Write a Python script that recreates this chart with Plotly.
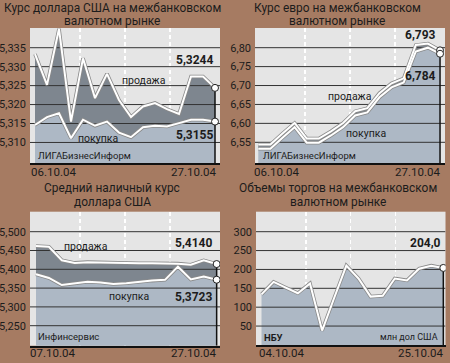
import plotly.graph_objects as go

W, H = 450, 363
FONT = "Roboto, 'Liberation Sans', sans-serif"
BG = "#a67b62"
PLOT_BG = "#e5e5e5"
SELL_FILL = "#7e868f"
BUY_FILL = "#adb8c5"
GRID = "#333333"
TEXT = "#1c1c1c"

# ---------------- data ----------------
# Panel 1: USD interbank
p1_title = ["Курс доллара США на межбанковском", "валютном рынке"]
p1_dates = ["06.10.04", "27.10.04"]
p1_sell = [5.3333, 5.3252, 5.3400, 5.3155, 5.3322, 5.3217, 5.3281, 5.3212,
           5.3167, 5.3195, 5.3204, 5.3188, 5.3175, 5.3274, 5.3274, 5.3244]
p1_buy = [5.3146, 5.3167, 5.3177, 5.3111, 5.3160, 5.3144, 5.3155, 5.3126,
          5.3114, 5.3140, 5.3144, 5.3142, 5.3151, 5.3160, 5.3160, 5.3155]
p1_ticks = [5.310, 5.315, 5.320, 5.325, 5.330, 5.335]

# Panel 2: EUR interbank
p2_title = ["Курс евро на межбанковском", "валютном рынке"]
p2_dates = ["06.10.04", "27.10.04"]
p2_sell = [6.544, 6.544, 6.573, 6.601, 6.560, 6.560, 6.579, 6.601,
           6.632, 6.640, 6.680, 6.706, 6.719, 6.807, 6.811, 6.793]
p2_buy = [6.533, 6.533, 6.562, 6.590, 6.549, 6.549, 6.568, 6.590,
          6.621, 6.629, 6.669, 6.695, 6.708, 6.790, 6.800, 6.784]
p2_ticks = [6.55, 6.60, 6.65, 6.70, 6.75, 6.80]

# Panel 3: USD cash average
p3_title = ["Средний наличный курс", "доллара США"]
p3_dates = ["07.10.04", "27.10.04"]
p3_sell = [5.462, 5.460, 5.424, 5.417, 5.419, 5.418, 5.416, 5.415,
           5.416, 5.416, 5.416, 5.415, 5.412, 5.424, 5.4140]
p3_buy = [5.387, 5.377, 5.358, 5.362, 5.367, 5.365, 5.361, 5.363,
          5.367, 5.370, 5.372, 5.407, 5.373, 5.381, 5.3723]
p3_ticks = [5.250, 5.300, 5.350, 5.400, 5.450, 5.500]

# Panel 4: trading volume
p4_title = ["Объемы торгов на межбанковском", "валютном рынке"]
p4_dates = ["04.10.04", "25.10.04"]
p4_vol = [134, 167, 152, 137, 163, 38, 125, 210, 176, 128, 130, 176, 171, 202, 210, 204.0]
p4_ticks = [50, 100, 150, 200, 250, 300]

sell_lbl, buy_lbl = "продажа", "покупка"

# ---------------- layout helpers ----------------
def P(px, py):
    return px / W, 1 - py / H

panels = [
    dict(ax="", dom_x=(30, 220), dom_y=(28, 163.3), xr=(-0.417, 15.417), yr=(5.3045, 5.3402), fmt=".3f"),
    dict(ax="2", dom_x=(255, 445), dom_y=(28, 163.3), xr=(-0.27, 15.41), yr=(6.4945, 6.852), fmt=".2f"),
    dict(ax="3", dom_x=(30, 220), dom_y=(211.7, 345.7), xr=(-0.465, 14.26), yr=(5.1968, 5.5532), fmt=".3f"),
    dict(ax="4", dom_x=(256, 445.5), dom_y=(211.7, 345.3), xr=(-0.454, 15.18), yr=(-1, 353), fmt="d"),
]
ticks_all = [p1_ticks, p2_ticks, p3_ticks, p4_ticks]

fig = go.Figure()


def line_tr(ax, x, y, color, width, **kw):
    return go.Scatter(x=x, y=y, mode="lines", line=dict(color=color, width=width),
                      xaxis="x" + ax, yaxis="y" + ax, hoverinfo="skip", showlegend=False, **kw)


def add_panel(cfg, ticks, series):
    ax = cfg["ax"]
    n = len(series[0])
    xs = list(range(n))
    if len(series) == 2:
        sell, buy = series
        fig.add_trace(line_tr(ax, xs, buy, BUY_FILL, 0, fill="tozeroy", fillcolor=BUY_FILL))
        fig.add_trace(line_tr(ax, xs, sell, SELL_FILL, 0, fill="tonexty", fillcolor=SELL_FILL))
    else:
        fig.add_trace(line_tr(ax, xs, series[0], BUY_FILL, 0, fill="tozeroy", fillcolor=BUY_FILL))
    gx, gy = [], []
    for t in ticks:
        gx += [cfg["xr"][0], cfg["xr"][1], None]
        gy += [t, t, None]
    fig.add_trace(line_tr(ax, gx, gy, GRID, 1))
    for s in series:
        fig.add_trace(line_tr(ax, xs, s, "#8a8a8a", 3.6))
    for s in series:
        fig.add_trace(line_tr(ax, xs, s, "#ffffff", 2))
    top = max(s[-1] for s in series)
    fig.add_trace(line_tr(ax, [n - 1, n - 1], [cfg["yr"][0], top], "#111111", 1.5))
    fig.add_trace(go.Scatter(x=[n - 1] * len(series), y=[s[-1] for s in series], mode="markers",
                             marker=dict(size=7, color="white", line=dict(color="#222", width=1)),
                             xaxis="x" + ax, yaxis="y" + ax, hoverinfo="skip", showlegend=False))


add_panel(panels[0], p1_ticks, [p1_sell, p1_buy])
add_panel(panels[1], p2_ticks, [p2_sell, p2_buy])
add_panel(panels[2], p3_ticks, [p3_sell, p3_buy])
add_panel(panels[3], p4_ticks, [p4_vol])

layout = dict(width=W, height=H, margin=dict(l=0, r=0, t=0, b=0),
              paper_bgcolor=BG, plot_bgcolor=PLOT_BG, separators=", ",
              showlegend=False, font=dict(family=FONT, color=TEXT))

for cfg, ticks in zip(panels, ticks_all):
    ax = cfg["ax"]
    x0, x1 = cfg["xr"]
    dash_x = [x0 + f * (x1 - x0) for f in (50 / 190, 95 / 190, 140 / 190)]
    layout["xaxis" + ax] = dict(domain=[cfg["dom_x"][0] / W, cfg["dom_x"][1] / W], range=list(cfg["xr"]),
                                anchor="y" + ax, tickvals=dash_x, showticklabels=False, ticks="",
                                showgrid=True, gridcolor="white", gridwidth=1.3, griddash="4px,3px",
                                zeroline=False, showline=True, linecolor="#111111", linewidth=2,
                                layer="above traces", fixedrange=True)
    layout["yaxis" + ax] = dict(domain=[1 - cfg["dom_y"][1] / H, 1 - cfg["dom_y"][0] / H], range=list(cfg["yr"]),
                                anchor="x" + ax, tickvals=ticks, tickformat=cfg["fmt"], showgrid=False,
                                zeroline=False, showline=False, ticks="", ticklabelstandoff=3,
                                tickfont=dict(family=FONT, size=11, color=TEXT), fixedrange=True)

annotations = []


def ann(text, px, py, xanchor="center", size=11, bold=False):
    x, y = P(px, py)
    annotations.append(dict(text=f"<b>{text}</b>" if bold else text, x=x, y=y, xref="paper", yref="paper",
                            xanchor=xanchor, yanchor="middle", showarrow=False,
                            font=dict(family=FONT, size=size, color=TEXT)))


def fmt(v, d):
    return f"{v:.{d}f}".replace(".", ",")


TS = 11.9  # title size
# Panel 1
ann(p1_title[0], 112, 7.5, size=TS)
ann(p1_title[1], 112, 21, size=TS)
ann(sell_lbl, 144, 80, size=10.5)
ann(buy_lbl, 98, 138, size=10.5)
ann("ЛИГАБизнесИнформ", 36, 155, "left", 9.5)
ann(fmt(p1_sell[-1], 4), 215, 60, "right", 12, True)
ann(fmt(p1_buy[-1], 4), 215, 135, "right", 12, True)
ann(p1_dates[0], 29, 172, "left", 11.5)
ann(p1_dates[1], 218, 172, "right", 11.5)

# Panel 2
ann(p2_title[0], 337, 7.5, size=TS)
ann(p2_title[1], 337, 21, size=TS)
ann(sell_lbl, 350, 96, size=10.5)
ann(buy_lbl, 366, 134, size=10.5)
ann("ЛИГАБизнесИнформ", 261, 155, "left", 9.5)
ann(fmt(p2_sell[-1], 3), 438, 35, "right", 12, True)
ann(fmt(p2_buy[-1], 3), 438, 76, "right", 12, True)
ann(p2_dates[0], 252, 172, "left", 11.5)
ann(p2_dates[1], 442, 172, "right", 11.5)

# Panel 3
ann(p3_title[0], 112, 188, size=TS)
ann(p3_title[1], 112, 202, size=TS)
ann(sell_lbl, 86, 246, size=10.5)
ann(buy_lbl, 129, 296, size=10.5)
ann("Инфинсервис", 36, 336, "left", 9.5)
ann(fmt(p3_sell[-1], 4), 214, 243, "right", 12, True)
ann(fmt(p3_buy[-1], 4), 214, 297, "right", 12, True)
ann(p3_dates[0], 28, 353, "left", 11.5)
ann(p3_dates[1], 218, 353, "right", 11.5)

# Panel 4
ann(p4_title[0], 338, 188, size=TS)
ann(p4_title[1], 338, 202, size=TS)
ann(fmt(p4_vol[-1], 1), 443, 243, "right", 12, True)
ann("НБУ", 262, 337, "left", 9.5, True)
ann("млн дол США", 440, 337, "right", 9)
ann(p4_dates[0], 257, 353, "left", 11.5)
ann(p4_dates[1], 445, 353, "right", 11.5)

layout["annotations"] = annotations
fig.update_layout(**layout)
fig.write_html("out.html", config={"displayModeBar": False, "staticPlot": True},
               post_script="document.body.style.margin='0';document.body.style.overflow='hidden';")
